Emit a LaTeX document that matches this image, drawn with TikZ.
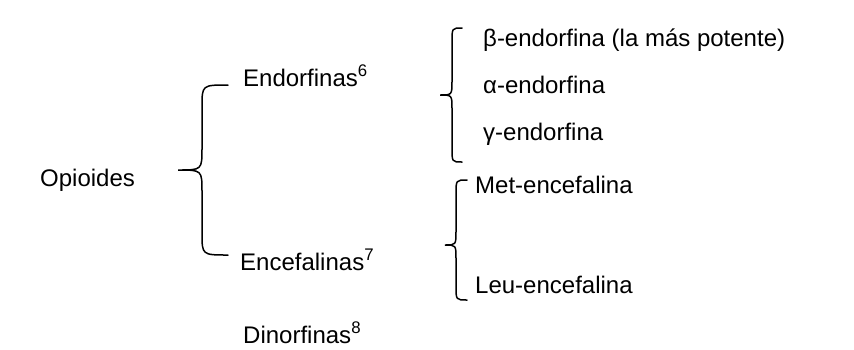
\documentclass[tikz,border=0pt]{standalone}
\usepackage{fontspec}
\setmainfont{Liberation Sans}
\begin{document}
\begin{tikzpicture}[x=1pt,y=-1pt,
  lbl/.style={anchor=base west,inner sep=0pt,font=\fontsize{24}{28}\selectfont},
  bracepath/.style={line width=1.5pt,line cap=round}]
\useasboundingbox[fill=white] (0,0) rectangle (854,349);
% texts
\node[lbl] (opi) at (40,186) {Opioides};
\node[lbl] (endo) at (243,86) {Endorfinas\textsuperscript{6}};
\node[lbl] (ence) at (240,270) {Encefalinas\textsuperscript{7}};
\node[lbl] (dino) at (243,343) {Dinorfinas\textsuperscript{8}};
\node[lbl] (beta) at (483,46) {β-endorfina (la más potente)};
\node[lbl] (alfa) at (483,93) {α-endorfina};
\node[lbl] (gama) at (483,140) {γ-endorfina};
\node[lbl] (met) at (475,193) {Met-encefalina};
\node[lbl] (leu) at (475,293) {Leu-encefalina};
% braces
\newcommand{\mybrace}[7]{% ends x, vertical x, tip x, top y, tip y, bottom y, radius
  \draw[bracepath] (#1,#4) .. controls (#2,#4) .. (#2,#4+#7) -- (#2,#5-#7)
    .. controls (#2,#5) .. (#3,#5) .. controls (#2,#5) .. (#2,#5+#7)
    -- (#2,#6-#7) .. controls (#2,#6) .. (#1,#6);}
\mybrace{228}{202}{178}{85}{170}{255}{22}
\mybrace{462}{452}{440}{28}{95}{162}{14}
\mybrace{467}{456}{445}{180}{245}{300}{14}
\end{tikzpicture}
\end{document}
